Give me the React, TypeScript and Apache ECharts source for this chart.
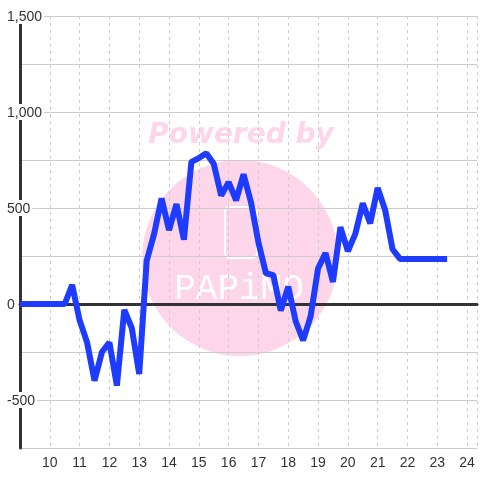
import React, { useEffect, useRef } from "react";
import * as echarts from "echarts";

const hours = [
  9, 9.25, 9.5, 9.75, 10, 10.25, 10.5, 10.75, 11, 11.25, 11.5, 11.75, 12, 12.25,
  12.5, 12.75, 13, 13.25, 13.5, 13.75, 14, 14.25, 14.5, 14.75, 15, 15.25, 15.5,
  15.75, 16, 16.25, 16.5, 16.75, 17, 17.25, 17.5, 17.75, 18, 18.25, 18.5, 18.75,
  19, 19.25, 19.5, 19.75, 20, 20.25, 20.5, 20.75, 21, 21.25, 21.5, 21.75, 22,
  22.25, 22.5, 22.75, 23, 23.25, 23.33,
];
const values = [
  0, 0, 0, 0, 0, 0, 0, 100, -85, -200, -400, -250, -200, -425, -30, -125, -365,
  225, 365, 550, 385, 520, 335, 740, 760, 785, 730, 565, 635, 540, 675, 530, 320,
  160, 150, -35, 90, -90, -190, -65, 185, 265, 115, 400, 275, 365, 525, 420, 605,
  490, 285, 235, 235, 235, 235, 235, 235, 235, 235,
];
const yLabelValues = [-500, 0, 500, 1000, 1500];
const xLabelValues = [10, 11, 12, 13, 14, 15, 16, 17, 18, 19, 20, 21, 22, 23, 24];

export default function App() {
  const ref = useRef<HTMLDivElement>(null);
  useEffect(() => {
    if (!ref.current) return;
    const chart = echarts.init(ref.current, null, { renderer: "svg" });
    const font = "Liberation Sans";
    const pink = "#fdd6ea";
    chart.setOption({
      animation: false,
      textStyle: { fontFamily: font },
      grid: { left: 20, right: 0, top: 16, bottom: 32, containLabel: false },
      graphic: [
        {
          type: "circle",
          z: -10,
          shape: { cx: 240, cy: 258, r: 98 },
          style: { fill: pink },
        },
        {
          type: "text",
          z: -10,
          x: 241,
          y: 133,
          style: {
            text: "Powered by",
            fill: pink,
            font: "italic bold 28px 'DejaVu Sans'",
            align: "center",
            verticalAlign: "middle",
          },
        },
        {
          type: "rect",
          z: -9,
          shape: { x: 225, y: 207, width: 32, height: 51, r: 5 },
          style: { fill: "none", stroke: "#ffffff", lineWidth: 2 },
        },
        {
          type: "text",
          z: -9,
          x: 239,
          y: 289,
          style: {
            text: "PAPiMO",
            fill: "#ffffff",
            font: "36px 'Liberation Mono'",
            align: "center",
            verticalAlign: "middle",
          },
        },
      ],
      xAxis: [
        {
          type: "value",
          min: 9,
          max: 24.333,
          interval: 1,
          position: "bottom",
          axisLine: { show: false, onZero: false },
          axisTick: { show: false },
          axisLabel: {
            margin: 7,
            color: "#333",
            fontSize: 14,
            fontFamily: font,
            formatter: (v: number) =>
              xLabelValues.indexOf(v) >= 0 ? String(v) : "",
          },
          splitLine: {
            show: true,
            lineStyle: { color: "#ccc", type: [3, 4], width: 1 },
          },
        },
        {
          type: "value",
          min: 9,
          max: 24.333,
          position: "bottom",
          axisLine: { show: true, onZero: true, lineStyle: { color: "#333", width: 3 } },
          axisTick: { show: false },
          axisLabel: { show: false },
          splitLine: { show: false },
        },
      ],
      yAxis: {
        type: "value",
        min: -750,
        max: 1500,
        interval: 250,
        axisLine: { show: true, lineStyle: { color: "#333", width: 3 } },
        axisTick: { show: false },
        axisLabel: {
          align: "left",
          margin: 14,
          color: "#333",
          fontSize: 14,
          fontFamily: font,
          backgroundColor: "#ffffff",
          padding: [1, 2, 1, 1],
          formatter: (v: number) =>
            yLabelValues.indexOf(v) >= 0 ? v.toLocaleString("en-US") : "",
        },
        splitLine: { show: true, lineStyle: { color: "#ccc", width: 1 } },
      },
      series: [
        {
          type: "line",
          xAxisIndex: 0,
          data: hours.map((h, i) => [h, values[i]]),
          showSymbol: false,
          symbol: "none",
          lineStyle: { color: "#1e3cff", width: 6 },
          z: 5,
        },
      ],
    });
    return () => chart.dispose();
  }, []);
  return (
    <div
      ref={ref}
      style={{ position: "fixed", left: 0, top: 0, width: 480, height: 480 }}
    />
  );
}
